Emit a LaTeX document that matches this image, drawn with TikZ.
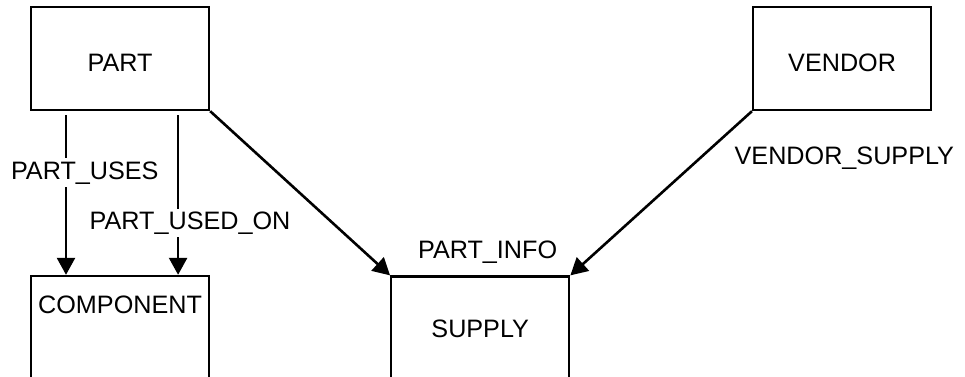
\documentclass[tikz,border=0pt]{standalone}
\usepackage{fontspec}
\setmainfont{Liberation Sans}
\usetikzlibrary{arrows.meta}

\tikzset{
    entity/.style={draw=black, line width=1.1pt, minimum width=3.13cm, minimum height=1.81cm, text height=13pt, text depth=0pt},
    link/.style={line width=1.3pt, -{Triangle[length=8.5pt,width=9pt]}},
    linkname/.style={fill=white, inner sep=1.5pt, anchor=base}
}

\begin{document}
\begin{tikzpicture}[font=\fontsize{12.6}{15}\selectfont]
    \useasboundingbox (0,0) rectangle (16.96,6.62);
    % entity boxes
    \node[entity] (part) at (2.11,5.59) {PART};
    \node[entity] (vendor) at (14.8,5.59) {VENDOR};
    \node[entity, anchor=north, inner sep=0pt, text height=19pt, text depth=33pt] (component) at (2.11,1.79) {COMPONENT};
    \node[entity, anchor=north, minimum height=1.84cm, text height=9pt] (supply) at (8.44,1.78) {SUPPLY};
    % relationships
    \draw[link] ([xshift=-0.95cm,yshift=-0.07cm]part.south) -- ([xshift=-0.95cm]component.north) node[linkname, pos=0.4, xshift=0.33cm] (uses) {PART\_USES};
    \draw[link] ([xshift=1.02cm,yshift=-0.07cm]part.south) -- ([xshift=1.02cm]component.north) node[linkname, pos=0.714, xshift=0.21cm] (usedon) {PART\_USED\_ON};
    \draw[link] (part.south east) -- (supply.north west);
    \draw[link] (vendor.south west) -- (supply.north east);
    \node[anchor=base] (partinfo) at ([xshift=0.13cm,yshift=0.3cm]supply.north) {PART\_INFO};
    \node[anchor=base] (vendorsupply) at ([xshift=0.04cm,yshift=-0.93cm]vendor.south) {VENDOR\_SUPPLY};
\end{tikzpicture}
\end{document}
